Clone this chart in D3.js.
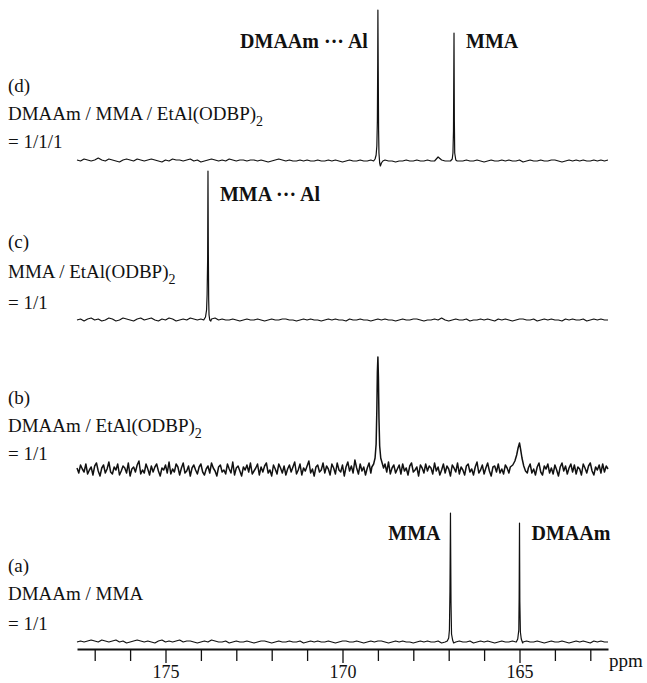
<!DOCTYPE html>
<html>
<head>
<meta charset="utf-8">
<script src="https://cdn.jsdelivr.net/npm/d3@7"></script>
<style>
  html, body { margin: 0; padding: 0; background: #fff; }
  svg { display: block; }
  text { font-family: "Liberation Serif", "Times New Roman", serif; fill: #111; }
</style>
</head>
<body>
<svg id="chart" width="647" height="683"></svg>
<script>
// ---------- DATA ----------
const ppmStart = 177.5, ppmEnd = 162.5;
const tickValuesPpm = [177,176,175,174,173,172,171,170,169,168,167,166,165,164,163];
const tickLabelsPpm = [175, 170, 165];

// baseline noise (intensity) sampled from 177.5 ppm downward
const noiseA = [
0,1,0,1,2,1,0,2,1,0, 1,2,0,1,-1,0,1,2,1,0, 1,0,-1,1,2,0,1,0,1,2, 0,1,1,0,-1,0,1,0,2,1,
0,0,1,-1,0,1,0,0,1,0, -1,0,1,1,0,-1,0,1,0,0, 1,0,0,1,-1,0,1,0,1,0, 0,1,0,-1,0,1,1,0,0,1,
0,-1,0,1,0,1,1,0,-1,0, 1,0,1,0,0,-1,0,1,0,1, 0,0,1,-1,0,1,0,0,1,0, 0,1,-1,0,1,0,1,0,-1,0,
1,0,0,1,0,-1,0,1,0,0, 1,0,-1,0,1,0,0,1,0,-1, 0,1,0,1,0,-1,1,0,1,0, 0];
const noiseB = [
2,-3,5,1,-2,6,-4,0,3,-5,4,7,-1,-6,2,5,-3,1,8,-2,
-4,3,0,6,-5,-1,4,2,-3,7,-6,1,3,-2,5,9,-4,0,-3,6,
1,-5,4,-2,3,6,-1,-6,2,0,5,-3,8,-4,1,-2,6,3,-5,2,
7,-3,-1,4,-6,2,5,0,-4,3,6,-2,-5,1,4,-3,7,2,-1,-6,
3,5,-2,0,-4,6,1,-3,8,-5,2,4,-1,-6,3,0,5,-2,7,-4,
-1,2,6,-5,3,-2,4,7,-3,0,-6,5,1,-4,6,2,-3,4,-5,1,
5,-2,3,8,-4,0,6,-5,2,-1,4,9,-3,1,-6,3,5,-2,0,7,
-3,4,1,-5,6,2,-4,7,0,-2,5,-6,3,8,-1,4,-3,10,2,-4,
6,-1,3,-5,2,7,-3,4,1,-4,5,0,-6,3,6,-2,8,-4,2,5,
-3,1,5,-4,6,-1,2,-5,4,7,-2,0,3,-6,5,2,-3,6,-1,4,
2,-4,7,-1,3,-5,0,6,-3,4,1,-6,5,2,-2,7,-4,3,0,-5,
4,6,-2,1,-5,3,8,-3,0,5,-4,2,7,-1,-6,3,4,-2,6,-3,
1,-4,5,2,-3,6,0,-5,4,7,-2,3,-1,5,-4,2,6,-3,1,-5,
3,7,-2,-5,4,1,6,-3,2,-4,5,0,-6,3,7,-1,4,-4,2,6,
-2,5,-4,3,1,-5,6,2,-3,4,7,-1,-5,3,0,5,-3,6,-2,4,
1];
const noiseC = [
0,1,-1,1,2,0,1,-1,0,2, 1,-1,0,2,1,0,-1,1,2,0, 1,2,0,-1,1,0,2,1,-1,0, 1,0,2,1,0,1,-1,0,1,2,
0,1,0,0,1,0,-1,0,1,0, 0,1,0,-1,0,1,0,0,1,1, 0,0,-1,0,1,0,1,0,0,-1, 0,1,0,1,0,0,-1,1,0,0,
1,0,0,-1,0,1,0,1,0,0, -1,0,1,0,0,1,1,0,-1,0, 0,1,0,2,0,-1,0,1,0,0, 1,-1,0,0,1,0,1,0,-1,1,
0,1,0,-1,0,1,1,0,0,1, -1,0,1,0,1,0,0,-1,1,0, 1,0,0,1,-1,0,1,0,1,0, 0];
const noiseD = [
1,0,2,1,0,1,3,1,0,2, 1,0,-1,1,2,1,0,2,1,0, 1,2,1,0,-1,1,0,2,1,1, 0,1,2,0,1,-1,0,1,2,1,
0,1,0,2,1,0,1,1,0,1, 1,0,1,0,-1,0,1,2,1,0, 1,0,0,1,0,1,0,0,1,0, 0,1,0,1,0,-1,0,1,0,0,
1,0,0,1,0,0,0,1,0,0, -1,0,0,1,0,0,1,0,0,1, 0,0,4,1,0,0,1,0,0,0, 1,0,0,1,0,-1,0,1,0,0,
1,0,1,0,0,1,-1,0,1,0, 0,1,0,0,1,1,0,-1,0,1, 0,1,0,1,0,0,1,0,1,0, 1];

// resonance peaks: [ppm, intensity]
const peaksA = [
  [[167.04,1],[167.0,4],[166.98,12],[166.965,50],[166.95,129],[166.935,40],[166.92,8],[166.89,2],[166.86,-1]],
  [[165.09,0],[165.05,3],[165.02,12],[165.01,45],[165.0,119],[164.99,40],[164.975,10],[164.95,3],[164.91,-1]]
];
const peaksB = [
  [[169.17,3],[169.12,6],[169.08,12],[169.05,26],[169.03,60],[169.015,98],[169.0,113],[168.985,92],[168.97,52],[168.95,24],[168.92,12],[168.88,7],[168.84,2]],
  [[165.26,3],[165.19,5],[165.13,9],[165.08,15],[165.04,22],[165.0,27],[164.97,21],[164.93,12],[164.88,4],[164.83,-1],[164.78,-3]]
];
const peaksC = [
  [[173.92,0],[173.87,3],[173.84,10],[173.825,25],[173.81,60],[173.8,149],[173.79,70],[173.78,20],[173.77,5],[173.75,0],[173.72,-1]]
];
const peaksD = [
  [[169.12,0],[169.08,2],[169.05,6],[169.03,15],[169.015,40],[169.005,100],[169.0,151],[168.99,90],[168.98,30],[168.97,8],[168.95,-2],[168.93,-5],[168.9,-2],[168.86,0]],
  [[166.95,0],[166.9,2],[166.88,8],[166.865,30],[166.85,128],[166.84,40],[166.83,8],[166.8,1],[166.76,0]]
];

const sampleNames = ["(a)", "(b)", "(c)", "(d)"];
const sampleFormulas = ["DMAAm / MMA", "DMAAm / EtAl(ODBP)", "MMA / EtAl(ODBP)", "DMAAm / MMA / EtAl(ODBP)"];
const sampleSubscripts = ["", "2", "2", "2"];
const sampleRatios = ["= 1/1", "= 1/1", "= 1/1", "= 1/1/1"];

// peak assignment labels: [panel, text, ppm, side]
const peakLabels = [
  [0, "MMA", 166.95, "left"],
  [0, "DMAAm", 165.0, "right"],
  [2, "MMA \u00B7\u00B7\u00B7 Al", 173.8, "right"],
  [3, "DMAAm \u00B7\u00B7\u00B7 Al", 169.0, "left"],
  [3, "MMA", 166.85, "right"]
];

// ---------- LAYOUT ----------
const svg = d3.select("#chart");
svg.append("rect").attr("width", 647).attr("height", 683).attr("fill", "#fff");

const x = d3.scaleLinear().domain([ppmStart, ppmEnd]).range([77, 608]);

const panels = [
  { noise: noiseA, step: 0.1,  peaks: peaksA, base: 642, sw: 1.2, label: [572, 600, 630], peakLabelY: 540 },
  { noise: noiseB, step: 0.05, peaks: peaksB, base: 470, sw: 1.5, label: [404, 432, 460], peakLabelY: null },
  { noise: noiseC, step: 0.1,  peaks: peaksC, base: 320, sw: 1.2, label: [248, 278, 309], peakLabelY: 201 },
  { noise: noiseD, step: 0.1,  peaks: peaksD, base: 161, sw: 1.2, label: [92, 120, 148], peakLabelY: 48 }
];

function buildSeries(noise, step, peaks) {
  const grid = noise.map((v, i) => [ppmStart - step * i, v]);
  const ranges = peaks.map(pk => d3.extent(pk, d => d[0]));
  const kept = grid.filter(([p]) => !ranges.some(([lo, hi]) => p >= lo - 1e-9 && p <= hi + 1e-9));
  return kept.concat(...peaks).sort((a, b) => b[0] - a[0]);
}

panels.forEach((pn, k) => {
  const y = d3.scaleLinear().domain([0, 100]).range([pn.base, pn.base - 100]);
  const series = buildSeries(pn.noise, pn.step, pn.peaks);
  const line = d3.line().x(d => x(d[0])).y(d => y(d[1]));
  svg.append("path")
    .datum(series)
    .attr("d", line)
    .attr("fill", "none")
    .attr("stroke", "#111")
    .attr("stroke-width", pn.sw)
    .attr("stroke-linejoin", "round");

  // sample labels
  const g = svg.append("g").attr("font-size", 19);
  g.append("text").attr("x", 8).attr("y", pn.label[0]).text(sampleNames[k]);
  const f = g.append("text").attr("x", 8).attr("y", pn.label[1]);
  f.append("tspan").text(sampleFormulas[k]);
  if (sampleSubscripts[k]) f.append("tspan").attr("dy", 6).attr("font-size", 14).text(sampleSubscripts[k]);
  g.append("text").attr("x", 8).attr("y", pn.label[2]).text(sampleRatios[k]);
});

// peak assignment labels
peakLabels.forEach(([pi, txt, ppm, side]) => {
  const pn = panels[pi];
  svg.append("text")
    .attr("x", x(ppm) + (side === "left" ? -10 : 12))
    .attr("y", pn.peakLabelY)
    .attr("text-anchor", side === "left" ? "end" : "start")
    .attr("font-size", 20)
    .attr("font-weight", "bold")
    .text(txt);
});

// ---------- AXIS ----------
const axisY = 649;
const axis = d3.axisBottom(x)
  .tickValues(tickValuesPpm)
  .tickSize(12)
  .tickSizeOuter(0)
  .tickFormat(d => tickLabelsPpm.includes(d) ? d : "");
const ag = svg.append("g").attr("transform", `translate(0,${axisY})`).call(axis);
ag.select(".domain").attr("stroke", "#111").attr("stroke-width", 1.8);
ag.selectAll(".tick line").attr("stroke", "#111").attr("stroke-width", 1.3)
  .attr("y2", d => tickLabelsPpm.includes(d) ? 14 : 12);
ag.selectAll(".tick text")
  .attr("font-family", '"Liberation Serif", "Times New Roman", serif')
  .attr("font-size", 18).attr("fill", "#111")
  .attr("dy", null).attr("y", 29);

svg.append("text").attr("x", 609).attr("y", 667).attr("font-size", 19).text("ppm");
</script>
</body>
</html>
